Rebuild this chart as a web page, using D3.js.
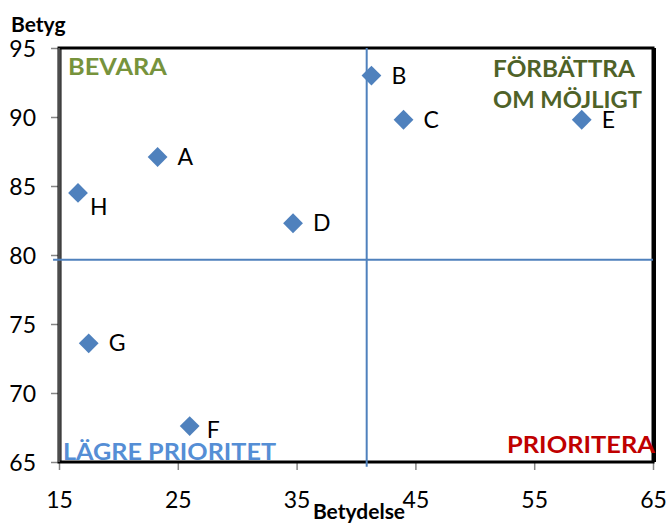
<!DOCTYPE html>
<html lang="sv">
<head>
<meta charset="UTF-8">
<title>Betyg vs Betydelse</title>
<script src="https://d3js.org/d3.v7.min.js"></script>
<style>
  body { margin: 0; background: #fff; }
  text { font-family: Lato, "Open Sans", sans-serif; }
</style>
</head>
<body>
<svg id="chart" width="668" height="525"></svg>
<script>
  // data
  var names = ["A", "B", "C", "D", "E", "F", "G", "H"];
  var betydelse = [23.3, 41.3, 44.0, 34.7, 59.0, 26.0, 17.5, 16.6];
  var betyg = [87.1, 93.0, 89.8, 82.3, 89.8, 67.6, 73.6, 84.5];
  var xTicks = [15, 25, 35, 45, 55, 65];
  var yTicks = [65, 70, 75, 80, 85, 90, 95];
  // quadrant dividers
  var hLine = [[14.5, 79.65], [65, 79.65]];
  var vLine = [[40.9, 95], [40.9, 64.65]];

  var boldFont = "'Liberation Sans', Arial, sans-serif";
  var svg = d3.select("#chart");
  var x = d3.scaleLinear().domain([15, 65]).range([59, 653]);
  var y = d3.scaleLinear().domain([65, 95]).range([462, 48]);

  // axes ticks + labels
  var xAxis = svg.append("g").attr("transform", "translate(0," + y(65) + ")")
    .call(d3.axisBottom(x).tickValues(xTicks).tickSize(8).tickPadding(18));
  var yAxis = svg.append("g").attr("transform", "translate(" + x(15) + ",0)")
    .call(d3.axisLeft(y).tickValues(yTicks).tickSize(8).tickPadding(16));
  [xAxis, yAxis].forEach(function(a) {
    a.select(".domain").remove();
    a.selectAll(".tick line").attr("stroke", "#868686").attr("stroke-width", 1.5);
    a.selectAll(".tick text").attr("font-size", 23).attr("fill", "#000")
      .attr("font-family", "Lato, sans-serif");
  });
  yAxis.selectAll(".tick text").attr("dy", "0.36em").attr("x", -23);
  xAxis.selectAll(".tick text").attr("dy", "0.88em");

  // plot frame
  svg.append("rect")
    .attr("x", x(15)).attr("y", y(95))
    .attr("width", x(65) - x(15)).attr("height", y(65) - y(95))
    .attr("fill", "none").attr("stroke", "#000").attr("stroke-width", 3);
  svg.append("line")
    .attr("x1", x(15) + 2).attr("x2", x(15) + 2).attr("y1", y(95)).attr("y2", y(65))
    .attr("stroke", "#000").attr("stroke-width", 1);
  svg.append("line")
    .attr("x1", x(65) + 1.5).attr("x2", x(65) + 1.5).attr("y1", y(95)).attr("y2", y(65))
    .attr("stroke", "#000").attr("stroke-width", 3);
  svg.append("line")
    .attr("x1", x(15)).attr("x2", x(15)).attr("y1", y(95)).attr("y2", y(65))
    .attr("stroke", "#9a9a9a").attr("stroke-width", 1);

  // divider lines
  var line = d3.line().x(function(d) { return x(d[0]); }).y(function(d) { return y(d[1]); });
  [hLine, vLine].forEach(function(l) {
    svg.append("path").attr("d", line(l))
      .attr("stroke", "#4F81BD").attr("stroke-width", 2).attr("fill", "none");
  });

  // quadrant labels
  function quad(txt, px, py, len, col) {
    svg.append("text").attr("x", px).attr("y", py).text(txt)
      .attr("font-family", boldFont)
      .attr("font-size", 23).attr("font-weight", "bold").attr("fill", col)
      .attr("textLength", len).attr("lengthAdjust", "spacingAndGlyphs");
  }
  quad("BEVARA", 68, 75, 99, "#77933C");
  quad("FÖRBÄTTRA", 493, 77, 142, "#4F6228");
  quad("OM MÖJLIGT", 493, 108, 149, "#4F6228");
  quad("LÄGRE PRIORITET", 63, 460, 213, "#558ED5");
  quad("PRIORITERA", 507, 453, 148, "#C00000");

  // points
  var labelNudge = { H: [12, 22], F: [17, 12] };
  var sym = d3.symbol().type(d3.symbolSquare).size(196);
  var pts = svg.append("g").selectAll("g").data(names).enter().append("g")
    .attr("transform", function(d, i) { return "translate(" + x(betydelse[i]) + "," + y(betyg[i]) + ")"; });
  pts.append("path").attr("d", sym).attr("transform", "rotate(45)").attr("fill", "#4F81BD");
  pts.append("text").text(function(d) { return d; })
    .attr("x", function(d) { return labelNudge[d] ? labelNudge[d][0] : 20; })
    .attr("y", function(d) { return labelNudge[d] ? labelNudge[d][1] : 8; })
    .attr("font-size", 23).attr("fill", "#000");

  // axis titles
  svg.append("text").attr("x", 11).attr("y", 32).text("Betyg")
    .attr("font-family", boldFont)
    .attr("font-size", 21).attr("font-weight", "bold");
  svg.append("text").attr("x", 359).attr("y", 519).attr("text-anchor", "middle").text("Betydelse")
    .attr("font-family", boldFont)
    .attr("font-size", 21).attr("font-weight", "bold");
</script>
</body>
</html>
